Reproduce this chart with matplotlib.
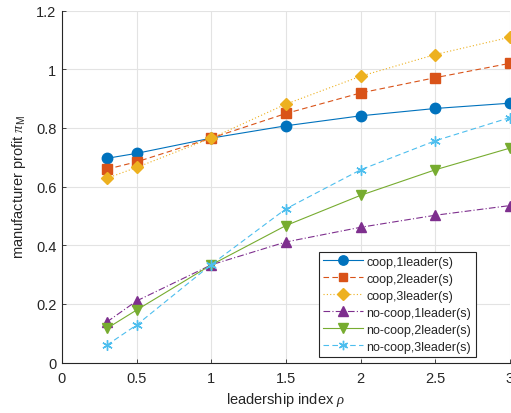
import numpy as np
import matplotlib as mpl
mpl.use('Agg')
from matplotlib import pyplot as plt

# data
rho = [0.3, 0.5, 1.0, 1.5, 2.0, 2.5, 3.0]

coop1 = [0.696, 0.713, 0.765, 0.807, 0.841, 0.866, 0.884]
coop2 = [0.659, 0.684, 0.765, 0.849, 0.919, 0.971, 1.020]
coop3 = [0.628, 0.665, 0.765, 0.881, 0.976, 1.050, 1.109]
nocoop1 = [0.138, 0.210, 0.333, 0.411, 0.461, 0.502, 0.535]
nocoop2 = [0.116, 0.179, 0.333, 0.467, 0.570, 0.657, 0.731]
nocoop3 = [0.059, 0.128, 0.334, 0.524, 0.657, 0.756, 0.835]

labels = ['coop,1leader(s)', 'coop,2leader(s)', 'coop,3leader(s)',
          'no-coop,1leader(s)', 'no-coop,2leader(s)', 'no-coop,3leader(s)']

xticks = [0, 0.5, 1, 1.5, 2, 2.5, 3]
xticklabels = ['0', '0.5', '1', '1.5', '2', '2.5', '3']
yticks = [0, 0.2, 0.4, 0.6, 0.8, 1.0, 1.2]
yticklabels = ['0', '0.2', '0.4', '0.6', '0.8', '1', '1.2']

mpl.rcParams['font.family'] = ['Liberation Sans', 'DejaVu Sans']
mpl.rcParams['mathtext.fontset'] = 'custom'
mpl.rcParams['mathtext.rm'] = 'Liberation Sans'
mpl.rcParams['mathtext.it'] = 'Liberation Serif:italic'

axcol = '#262626'

f = plt.figure(figsize = (5.11, 4.14), dpi = 100)
ax1 = f.add_axes([62 / 511, 1 - 363.5 / 414, (510 - 62) / 511, (363.5 - 11.5) / 414])

series = [coop1, coop2, coop3, nocoop1, nocoop2, nocoop3]
colors = ['#0072BD', '#D95319', '#EDB120', '#7E2F8E', '#77AC30', '#4DBEEE']
styles = ['-', (0, (5, 3)), (0, (1, 2)), (0, (6, 2, 1, 2)), '-', (0, (5, 3))]
markers = ['o', 's', 'D', '^', 'v', (6, 2, 0)]
msizes = [7.5, 6.5, 6.5, 7.5, 7.5, 7.5]

for y, c, ls, m, ms, lab in zip(series, colors, styles, markers, msizes, labels):
    ax1.plot(rho, y, color = c, ls = ls, lw = 0.8, marker = m, ms = ms,
             mfc = c, mec = c, mew = 1.0, label = lab, clip_on = False, zorder = 3)

ax1.set_xlim(0, 3)
ax1.set_ylim(0, 1.2)
ax1.set_xticks(xticks)
ax1.set_xticklabels(xticklabels)
ax1.set_yticks(yticks)
ax1.set_yticklabels(yticklabels)

ax1.grid(True, color = '#e3e3e3', lw = 0.8)
ax1.set_axisbelow(True)

ax1.spines['top'].set_visible(False)
ax1.spines['right'].set_visible(False)
for s in ['left', 'bottom']:
    ax1.spines[s].set_color(axcol)
    ax1.spines[s].set_linewidth(0.8)

ax1.tick_params('both', direction = 'in', length = 3, width = 0.6,
                colors = axcol, labelsize = 10.5, pad = 6)
ax1.tick_params(axis = 'y', pad = 4)

ax1.set_xlabel(r'leadership index $\rho$', fontsize = 10.5, color = axcol, labelpad = 4)
ax1.set_ylabel(r'manufacturer profit $\pi_{\mathrm{M}}$', fontsize = 10.5,
               color = axcol, labelpad = 6)

leg = ax1.legend(loc = 'lower left', bbox_to_anchor = ((319 - 62) / 448, (363.5 - 357.5) / 352,
                                                      (476 - 319) / 448, (357.5 - 252.5) / 352),
                 mode = 'expand', fontsize = 9, handlelength = 3.2, labelspacing = 0.4,
                 borderpad = 0.3, handletextpad = 0.3, borderaxespad = 0.0,
                 fancybox = False, framealpha = 1.0, edgecolor = axcol, markerscale = 0.9)
leg.get_frame().set_linewidth(0.8)
for t in leg.get_texts():
    t.set_color(axcol)

f.savefig('out.png', dpi = 100)
plt.close()
